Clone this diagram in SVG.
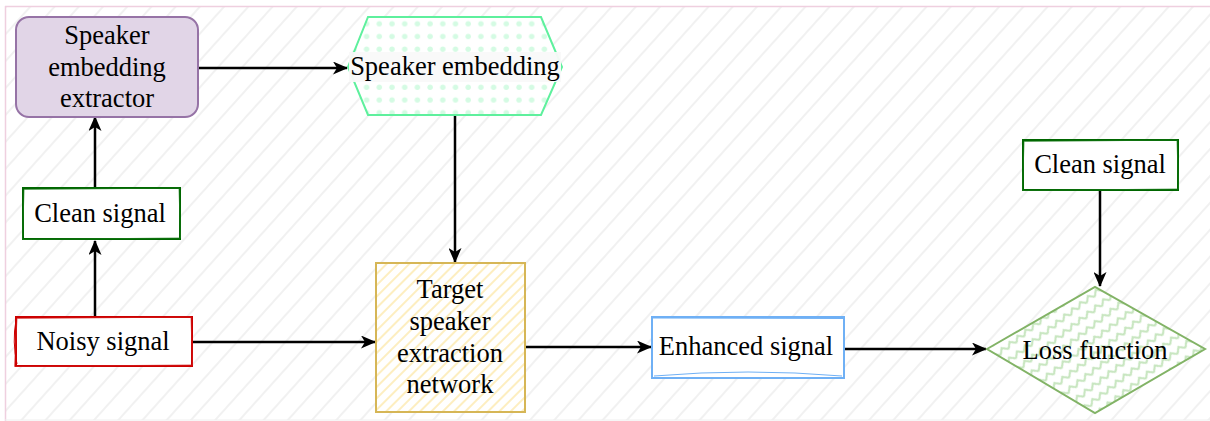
<svg xmlns="http://www.w3.org/2000/svg" width="1210" height="421" viewBox="0 0 1210 421">
<defs>
<style>
.t{font-family:"Liberation Serif","Times New Roman",serif;font-size:26.5px;fill:#000;text-anchor:middle}
.c{stroke:#000;stroke-width:2.5;fill:none}
</style>
<marker id="ah" markerUnits="userSpaceOnUse" markerWidth="15" markerHeight="13" viewBox="0 0 15 13" refX="14" refY="6.5" orient="auto">
<path d="M0,0 L15,6.5 L0,13 L4,6.5 z" fill="#000"/>
</marker>
<pattern id="bg" width="18" height="18" patternUnits="userSpaceOnUse" patternTransform="rotate(-48)">
<line x1="0" y1="9" x2="18" y2="9" stroke="#f1f1f1" stroke-width="2"/>
</pattern>
<pattern id="hatch" width="8" height="8" patternUnits="userSpaceOnUse" patternTransform="rotate(-45)">
<line x1="0" y1="4" x2="8" y2="4" stroke="#fdeec0" stroke-width="2"/>
</pattern>
<pattern id="dots" width="12.7" height="12.7" patternUnits="userSpaceOnUse" x="5" y="5">
<circle cx="6" cy="6" r="2.7" fill="#d4fbe3"/>
</pattern>
<pattern id="zig" width="10" height="12" patternUnits="userSpaceOnUse" patternTransform="rotate(-38)">
<path d="M0,8 L5,3 L10,8" fill="none" stroke="#c6e5be" stroke-width="2"/>
</pattern>
</defs>
<rect x="0" y="0" width="1210" height="421" fill="#fff"/>
<rect x="5" y="6" width="1205" height="414" fill="url(#bg)"/>
<line x1="5" y1="6.5" x2="1210" y2="6.5" stroke="#efcfdf" stroke-width="1.5"/>
<line x1="5.5" y1="6" x2="5.5" y2="421" stroke="#efcfdf" stroke-width="1.5"/>
<line x1="5" y1="420" x2="1210" y2="420" stroke="#eeeeee" stroke-width="1"/>

<g id="connectors">
<line class="c" x1="198" y1="68" x2="347" y2="68" marker-end="url(#ah)"/>
<line class="c" x1="455" y1="116" x2="455" y2="262" marker-end="url(#ah)"/>
<line class="c" x1="95" y1="188" x2="95" y2="117" marker-end="url(#ah)"/>
<line class="c" x1="95" y1="317" x2="95" y2="241" marker-end="url(#ah)"/>
<line class="c" x1="192" y1="342" x2="375" y2="342" marker-end="url(#ah)"/>
<line class="c" x1="526" y1="347" x2="651" y2="347" marker-end="url(#ah)"/>
<line class="c" x1="844" y1="349" x2="986" y2="349" marker-end="url(#ah)"/>
<line class="c" x1="1100" y1="190" x2="1100" y2="286" marker-end="url(#ah)"/>
</g>

<g id="extractor">
<rect x="16" y="17" width="182" height="100" rx="13" fill="#e1d5e7" stroke="#9673a6" stroke-width="2"/>
<text class="t" x="107" y="44">Speaker</text>
<text class="t" x="107" y="76">embedding</text>
<text class="t" x="107" y="107">extractor</text>
</g>

<g id="speaker-embedding">
<polygon points="368,17 541,17 562,67 541,115 368,115 348,67" fill="#fff"/>
<polygon points="368,17 541,17 562,67 541,115 368,115 348,67" fill="url(#dots)" stroke="#5ef09d" stroke-width="2"/>
<rect x="349" y="52" width="212" height="30" fill="#f9f9f9" opacity="0.95"/>
<text class="t" x="455" y="75">Speaker embedding</text>
</g>

<g id="clean-left">
<rect x="23" y="188" width="157" height="51" fill="#fff" stroke="#006600" stroke-width="2"/>
<path d="M24,189.5 L179,188 L180.5,238 L22.5,239.5 Z" fill="none" stroke="#1a7a1a" stroke-width="1" opacity="0.7"/>
<text class="t" x="100" y="222">Clean signal</text>
</g>

<g id="noisy">
<rect x="16" y="317" width="176" height="49" fill="#fff" stroke="#cc0000" stroke-width="2"/>
<path d="M17,318.5 L191,317 L192.5,365 L14.5,366.5 Z" fill="none" stroke="#d42020" stroke-width="1" opacity="0.7"/>
<path d="M16,320 Q12,342 17,364" fill="none" stroke="#cc0000" stroke-width="1"/>
<text class="t" x="103" y="350">Noisy signal</text>
</g>

<g id="target">
<rect x="376" y="263" width="149" height="149" fill="#fff"/>
<rect x="376" y="263" width="149" height="149" fill="url(#hatch)" stroke="#d6b656" stroke-width="2"/>
<text class="t" x="450" y="298">Target</text>
<text class="t" x="450" y="330">speaker</text>
<text class="t" x="450" y="362">extraction</text>
<text class="t" x="450" y="393">network</text>
</g>

<g id="enhanced">
<rect x="652" y="317" width="192" height="61" fill="#fff" stroke="#6fb0f5" stroke-width="2"/>
<path d="M653,318 L843,318.5 M654,376 Q748,368 842,376" fill="none" stroke="#6fb0f5" stroke-width="1"/>
<text class="t" x="746" y="355">Enhanced signal</text>
</g>

<g id="loss">
<polygon points="987,349 1095,287 1205,349 1095,413" fill="#fff"/>
<polygon points="987,349 1095,287 1205,349 1095,413" fill="url(#zig)" stroke="#82b366" stroke-width="2"/>
<text class="t" x="1095" y="359">Loss function</text>
</g>

<g id="clean-right">
<rect x="1023" y="140" width="155" height="50" fill="#fff" stroke="#006600" stroke-width="2"/>
<path d="M1024,141.5 L1177,140 L1178.5,189 L1022.5,190.5 Z" fill="none" stroke="#1a7a1a" stroke-width="1" opacity="0.7"/>
<text class="t" x="1100" y="173">Clean signal</text>
</g>
</svg>
